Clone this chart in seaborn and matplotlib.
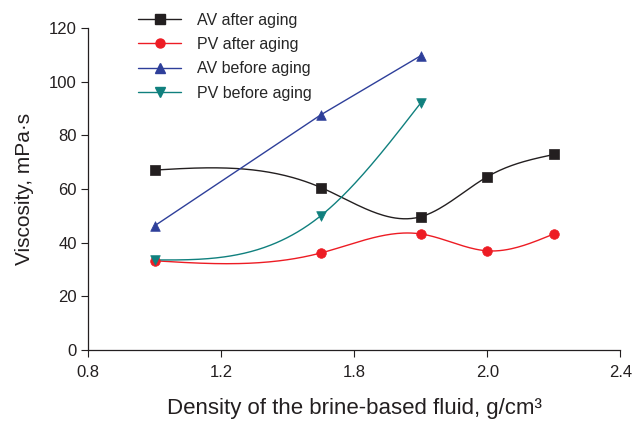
import numpy as np
import pandas as pd
import matplotlib
matplotlib.use("Agg")
import matplotlib.pyplot as plt
from matplotlib.lines import Line2D
import seaborn as sns

# ---- data ----
density_after = [1.0, 1.5, 1.8, 2.0, 2.2]
av_after = [67, 60.5, 49.6, 64.5, 72.8]
pv_after = [33.2, 36.1, 43.2, 36.9, 43.2]
density_before = [1.0, 1.5, 1.8]
av_before = [46.2, 87.6, 109.6]
pv_before = [33.5, 50.0, 92.0]

x_ticks = [0.8, 1.2, 1.6, 2.0, 2.4]
x_tick_labels = ["0.8", "1.2", "1.8", "2.0", "2.4"]
y_ticks = [0, 20, 40, 60, 80, 100, 120]

labels = ["AV after aging", "PV after aging", "AV before aging", "PV before aging"]
colors = ["#231f20", "#ed1c24", "#2e3f9a", "#10807e"]
markers = ["s", "o", "^", "v"]


def natural_spline(x, y, n=200):
    x = np.asarray(x, float)
    y = np.asarray(y, float)
    k = len(x)
    h = np.diff(x)
    A = np.zeros((k, k))
    b = np.zeros(k)
    A[0, 0] = 1
    A[-1, -1] = 1
    for i in range(1, k - 1):
        A[i, i - 1] = h[i - 1]
        A[i, i] = 2 * (h[i - 1] + h[i])
        A[i, i + 1] = h[i]
        b[i] = 6 * ((y[i + 1] - y[i]) / h[i] - (y[i] - y[i - 1]) / h[i - 1])
    M = np.linalg.solve(A, b)
    xs = np.linspace(x[0], x[-1], n)
    ys = np.empty_like(xs)
    for j, t in enumerate(xs):
        i = min(np.searchsorted(x, t, side="right") - 1, k - 2)
        a = x[i + 1] - t
        c = t - x[i]
        ys[j] = (M[i] * a ** 3 / (6 * h[i]) + M[i + 1] * c ** 3 / (6 * h[i])
                 + (y[i] / h[i] - M[i] * h[i] / 6) * a
                 + (y[i + 1] / h[i] - M[i + 1] * h[i] / 6) * c)
    return xs, ys


sns.set_style("ticks")
plt.rcParams["font.family"] = ["Liberation Sans", "DejaVu Sans"]

fig = plt.figure(figsize=(6.33, 4.22), dpi=100)
ax = fig.add_axes([0.139, 0.171, 0.841, 0.763])

series = [
    (density_after, av_after, True),
    (density_after, pv_after, True),
    (density_before, av_before, False),
    (density_before, pv_before, True),
]

handles = []
for (xv, yv, smooth), lab, col, mk in zip(series, labels, colors, markers):
    if smooth:
        xs, ys = natural_spline(xv, yv)
    else:
        xs, ys = np.asarray(xv, float), np.asarray(yv, float)
    sns.lineplot(x=xs, y=ys, ax=ax, color=col, lw=1.0, sort=False, legend=False)
    sns.scatterplot(x=xv, y=yv, ax=ax, color=col, marker=mk, s=48,
                    edgecolor=col, linewidth=0.5, legend=False, zorder=3)
    handles.append(Line2D([0], [0], color=col, lw=1.0, marker=mk, markersize=6.5,
                          markeredgecolor=col, label=lab))

ax.set_xlim(0.8, 2.4)
ax.set_ylim(0, 120)
ax.set_xticks(x_ticks)
ax.set_xticklabels(x_tick_labels)
ax.set_yticks(y_ticks)
ax.tick_params(axis="both", labelsize=12, colors="#231f20", length=5, width=0.8)
ax.tick_params(axis="x", pad=6)
ax.tick_params(axis="y", pad=3)
for s in ["left", "bottom"]:
    ax.spines[s].set_color("#231f20")
    ax.spines[s].set_linewidth(0.9)
sns.despine(ax=ax)

ax.set_xlabel("Density of the brine-based fluid, g/cm³", fontsize=16,
              color="#231f20", labelpad=13)
ax.set_ylabel("Viscosity, mPa·s", fontsize=15, color="#231f20", labelpad=11)

fig.legend(handles=handles, loc="upper left", bbox_to_anchor=(0.208, 0.985),
           frameon=False, fontsize=11.5, handlelength=2.7, labelspacing=0.58,
           handletextpad=1.0, borderaxespad=0)

fig.savefig("out.png", dpi=100)
